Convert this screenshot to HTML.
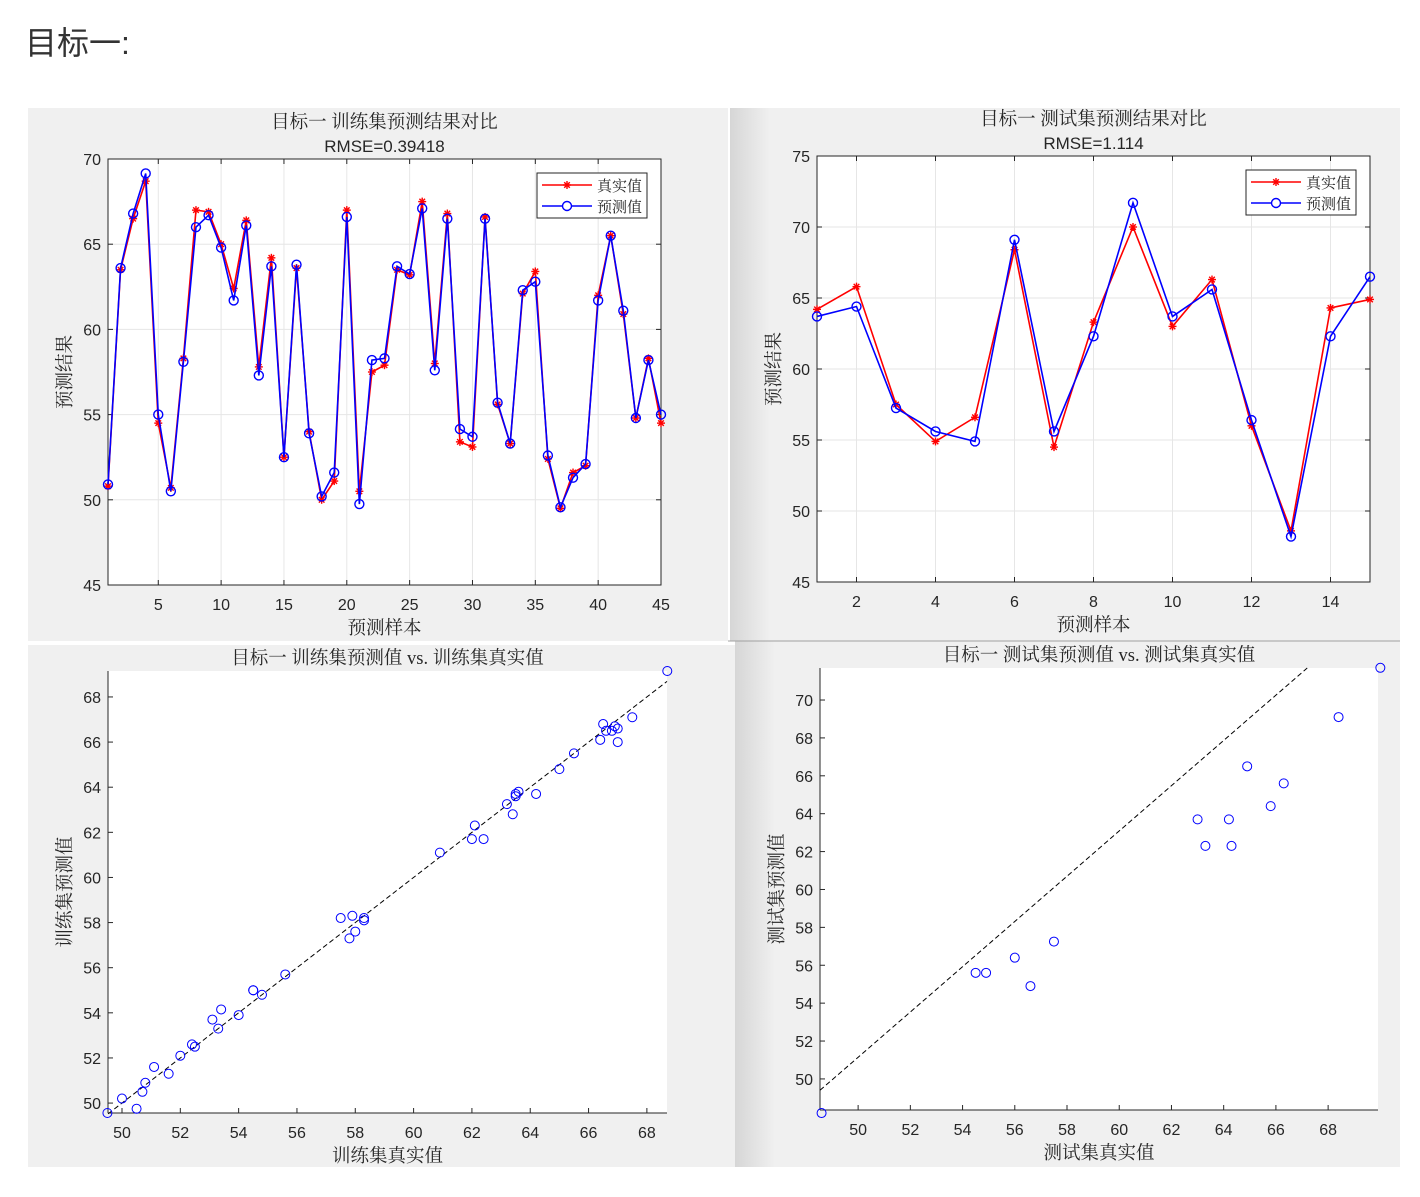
<!DOCTYPE html>
<html><head><meta charset="utf-8">
<style>
html,body{margin:0;padding:0;background:#fff;width:1420px;height:1197px;overflow:hidden}
#h{position:absolute;left:25px;top:18px;font:32px "Liberation Sans","Noto Sans CJK SC",sans-serif;color:#333}
svg{position:absolute;left:0;top:0}
text{font-family:"Liberation Sans","Noto Sans CJK SC",sans-serif;fill:#262626}
.cj{font-family:"Liberation Serif","Noto Serif CJK SC",serif}
</style></head><body>
<div id="h">目标一:</div>
<svg id="s" width="1420" height="1197" xmlns="http://www.w3.org/2000/svg">
<defs>
<linearGradient id="g" x1="0" x2="1"><stop offset="0" stop-color="#d6d6d6"/><stop offset="1" stop-color="#f0f0f0"/></linearGradient>
</defs>
</svg>
<script>
const trainTrue=[50.8,63.5,66.5,68.7,54.5,50.7,58.3,67.0,66.9,65.0,62.4,66.4,57.8,64.2,52.5,63.6,54.0,50.0,51.1,67.0,50.5,57.5,57.9,63.5,63.2,67.5,58.0,66.8,53.4,53.1,66.6,55.6,53.3,62.1,63.4,52.4,49.5,51.6,52.0,62.0,65.5,60.9,54.8,58.3,54.5];
const trainPred=[50.9,63.6,66.8,69.15,55.0,50.5,58.1,66.0,66.7,64.8,61.7,66.1,57.3,63.7,52.5,63.8,53.9,50.2,51.6,66.6,49.75,58.2,58.3,63.7,63.25,67.1,57.6,66.5,54.15,53.7,66.5,55.7,53.3,62.3,62.8,52.6,49.56,51.3,52.1,61.7,65.5,61.1,54.8,58.2,55.0];
const testTrue=[64.2,65.8,57.5,54.9,56.6,68.4,54.5,63.3,70.0,63.0,66.3,56.0,48.6,64.3,64.9];
const testPred=[63.7,64.4,57.25,55.6,54.9,69.1,55.6,62.3,71.7,63.7,65.6,56.4,48.2,62.3,66.5];
const trainTicksX=[5,10,15,20,25,30,35,40,45];
const trainTicksY=[45,50,55,60,65,70];
const testTicksX=[2,4,6,8,10,12,14];
const testTicksY=[45,50,55,60,65,70,75];
const scTrainTicks=[50,52,54,56,58,60,62,64,66,68];
const scTestTicks=[50,52,54,56,58,60,62,64,66,68,70];
const refLineTrain=[49.52,49.52,68.69,68.69];
const refLineTest=[48.54,49.4,67.2,71.69];

const S=document.getElementById('s');
const NS='http://www.w3.org/2000/svg';
function el(t,a,p){const e=document.createElementNS(NS,t);for(const k in a)e.setAttribute(k,a[k]);(p||S).appendChild(e);return e;}
function txt(x,y,s,o,p){const e=el('text',Object.assign({x:x,y:y},o||{}),p);e.textContent=s;return e;}

[[28,108,700,533,'panel-train-compare'],[730,108,670,533,'panel-test-compare'],[28,645,707,522,'panel-train-scatter'],[735,641,665,526,'panel-test-scatter']].forEach(p=>{
 const g=el('g',{});
 
 
 el('rect',{x:p[0],y:p[1],width:p[2],height:p[3],fill:'#f0f0f0'},g);
});
el('rect',{x:730,y:108,width:40,height:533,fill:'url(#g)'});
el('rect',{x:735,y:641,width:40,height:526,fill:'url(#g)'});
el('line',{x1:728,y1:641,x2:1400,y2:641,stroke:'#a0a0a0'});

function axes(o){
 const g=el('g',{});
 
 
 const X=v=>o.x0+(v-o.xmin)/(o.xmax-o.xmin)*(o.x1-o.x0);
 const Y=v=>o.y1-(v-o.ymin)/(o.ymax-o.ymin)*(o.y1-o.y0);
 el('rect',{x:o.x0,y:o.y0,width:o.x1-o.x0,height:o.y1-o.y0,fill:'#fff'},g);
 if(o.grid){
  o.tx.forEach(t=>el('line',{x1:X(t),x2:X(t),y1:o.y0,y2:o.y1,stroke:'#e6e6e6'},g));
  o.ty.forEach(t=>el('line',{y1:Y(t),y2:Y(t),x1:o.x0,x2:o.x1,stroke:'#e6e6e6'},g));
 }
 o.tx.forEach(t=>{const x=X(t);el('line',{x1:x,x2:x,y1:o.y1,y2:o.y1-5,stroke:'#262626'},g);if(o.box)el('line',{x1:x,x2:x,y1:o.y0,y2:o.y0+5,stroke:'#262626'},g);
  const l=txt(x,o.y1+25,t,{'font-size':16,'text-anchor':'middle'},g);});
 o.ty.forEach(t=>{const y=Y(t);el('line',{y1:y,y2:y,x1:o.x0,x2:o.x0+5,stroke:'#262626'},g);if(o.box)el('line',{y1:y,y2:y,x1:o.x1,x2:o.x1-5,stroke:'#262626'},g);
  const l=txt(o.x0-7,y+6,t,{'font-size':16,'text-anchor':'end'},g);});
 if(o.box) el('rect',{x:o.x0,y:o.y0,width:o.x1-o.x0,height:o.y1-o.y0,fill:'none',stroke:'#262626'},g);
 else {el('line',{x1:o.x0,x2:o.x1,y1:o.y1,y2:o.y1,stroke:'#262626'},g);el('line',{x1:o.x0,x2:o.x0,y1:o.y0,y2:o.y1,stroke:'#262626'},g);}
 const tt=txt((o.x0+o.x1)/2,o.y0-o.tOff,o.title,{'font-size':18.5,'text-anchor':'middle',class:'cj'},g);
 if(o.sub){const st=txt((o.x0+o.x1)/2,o.y0-7,o.sub,{'font-size':17,'text-anchor':'middle'},g);}
 const xl=txt((o.x0+o.x1)/2,o.y1+49,o.xl,{'font-size':18.5,'text-anchor':'middle',class:'cj'},g);
 const yx=o.x0-42,yy=(o.y0+o.y1)/2;
 const yl=txt(yx,yy,o.yl,{'font-size':18.5,'text-anchor':'middle','dominant-baseline':'central',class:'cj',transform:`rotate(-90 ${yx} ${yy})`},g);
 return {g,X,Y};
}
function star(g,x,y,c){const r=4;[[0,r],[r,0],[r*.7,r*.7],[r*.7,-r*.7]].forEach(d=>el('line',{x1:x-d[0],y1:y-d[1],x2:x+d[0],y2:y+d[1],stroke:c,'stroke-width':1.4},g));}
function lineChart(o,tr,pr){
 const a=axes(o);
 const ptsT=tr.map((v,i)=>a.X(i+1)+','+a.Y(v)).join(' ');
 const ptsP=pr.map((v,i)=>a.X(i+1)+','+a.Y(v)).join(' ');
 const l1=el('polyline',{points:ptsT,fill:'none',stroke:'#ff0000','stroke-width':1.6},a.g);
 tr.forEach((v,i)=>star(a.g,a.X(i+1),a.Y(v),'#ff0000'));
 const l2=el('polyline',{points:ptsP,fill:'none',stroke:'#0000ff','stroke-width':1.6},a.g);
 pr.forEach((v,i)=>{const c=el('circle',{cx:a.X(i+1),cy:a.Y(v),r:4.5,fill:'none',stroke:'#0000ff','stroke-width':1.4},a.g);});
 const lg=el('g',{},a.g);
 
 
 const lx=o.x1-124,ly=o.y0+14;
 el('rect',{x:lx,y:ly,width:110,height:45,fill:'#fff',stroke:'#262626'},lg);
 el('line',{x1:lx+5,x2:lx+55,y1:ly+12,y2:ly+12,stroke:'#ff0000','stroke-width':1.6},lg);star(lg,lx+30,ly+12,'#ff0000');
 el('line',{x1:lx+5,x2:lx+55,y1:ly+33,y2:ly+33,stroke:'#0000ff','stroke-width':1.6},lg);el('circle',{cx:lx+30,cy:ly+33,r:4.5,fill:'#fff',stroke:'#0000ff','stroke-width':1.4},lg);
 txt(lx+60,ly+18,'真实值',{'font-size':15,class:'cj'},lg);txt(lx+60,ly+39,'预测值',{'font-size':15,class:'cj'},lg);
}
function scatter(o,tr,pr,ref){
 const a=axes(o);
 const d=el('line',{x1:a.X(ref[0]),y1:a.Y(ref[1]),x2:a.X(ref[2]),y2:a.Y(ref[3]),stroke:'#000','stroke-dasharray':'5,3','stroke-width':1},a.g);
 
 tr.forEach((v,i)=>{const c=el('circle',{cx:a.X(v),cy:a.Y(pr[i]),r:4.5,fill:'none',stroke:'#0000ff','stroke-width':1},a.g);});
}
lineChart({name:'train-compare-chart',x0:108,x1:661,y0:159,y1:585,xmin:1,xmax:45,ymin:45,ymax:70,tx:trainTicksX,ty:trainTicksY,grid:true,box:true,title:'目标一 训练集预测结果对比',sub:'RMSE=0.39418',tOff:31,xl:'预测样本',yl:'预测结果'},trainTrue,trainPred);
lineChart({name:'test-compare-chart',x0:817,x1:1370,y0:156,y1:582,xmin:1,xmax:15,ymin:45,ymax:75,tx:testTicksX,ty:testTicksY,grid:true,box:true,title:'目标一 测试集预测结果对比',sub:'RMSE=1.114',tOff:31,xl:'预测样本',yl:'预测结果'},testTrue,testPred);
scatter({name:'train-scatter-chart',x0:108,x1:667,y0:671,y1:1113,xmin:49.52,xmax:68.69,ymin:49.56,ymax:69.15,tx:scTrainTicks,ty:scTrainTicks,grid:false,box:false,title:'目标一 训练集预测值 vs. 训练集真实值',tOff:7,xl:'训练集真实值',yl:'训练集预测值'},trainTrue,trainPred,refLineTrain);
scatter({name:'test-scatter-chart',x0:820,x1:1378,y0:668,y1:1110,xmin:48.54,xmax:69.91,ymin:48.36,ymax:71.69,tx:scTestTicks.filter(t=>t<=68),ty:scTestTicks,grid:false,box:false,title:'目标一 测试集预测值 vs. 测试集真实值',tOff:7,xl:'测试集真实值',yl:'测试集预测值'},testTrue,testPred,refLineTest);
</script>
</body></html>
